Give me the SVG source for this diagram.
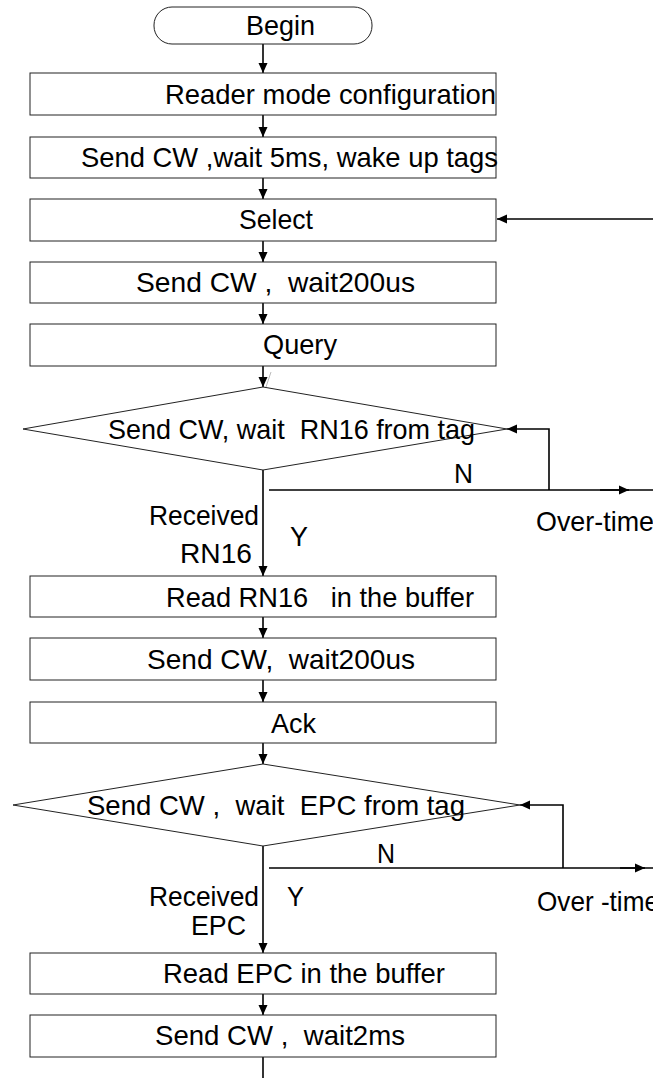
<svg xmlns="http://www.w3.org/2000/svg" width="653" height="1078" viewBox="0 0 653 1078">
  <style>
    .box { fill: #fff; stroke: #222; stroke-width: 1; }
    .lbl { font-family: "Liberation Sans", Arial, sans-serif; font-size: 28px; fill: #000; white-space: pre; }
    .wire { fill: none; stroke: #000; stroke-width: 1.6; }
  </style>
  <defs>
    <marker id="arrow" markerUnits="userSpaceOnUse" markerWidth="11" markerHeight="10" refX="10" refY="5" orient="auto">
      <path d="M0,0.5 L10,5 L0,9.5 z" fill="#000"/>
    </marker>
  </defs>
  <rect width="653" height="1078" fill="#fff"/>

  <!-- connectors -->
  <g id="connectors">
    <line class="wire" x1="263" y1="44" x2="263" y2="73" marker-end="url(#arrow)"/>
    <line class="wire" x1="263" y1="115" x2="263" y2="137" marker-end="url(#arrow)"/>
    <line class="wire" x1="263" y1="178" x2="263" y2="199" marker-end="url(#arrow)"/>
    <line class="wire" x1="653" y1="219" x2="497" y2="219" marker-end="url(#arrow)"/>
    <line class="wire" x1="263" y1="241" x2="263" y2="262" marker-end="url(#arrow)"/>
    <line class="wire" x1="263" y1="303" x2="263" y2="324" marker-end="url(#arrow)"/>
    <line class="wire" x1="263" y1="366" x2="263" y2="387" marker-end="url(#arrow)"/>
    <line x1="266" y1="387" x2="271" y2="372" stroke="#bbb" stroke-width="1"/>

    <!-- RN16 decision -->
    <line class="wire" x1="263" y1="470" x2="263" y2="576" marker-end="url(#arrow)"/>
    <line class="wire" x1="269" y1="490" x2="653" y2="490"/>
    <line class="wire" x1="600" y1="490" x2="629" y2="490" marker-end="url(#arrow)"/>
    <polyline class="wire" points="549,490 549,429 507,429" marker-end="url(#arrow)"/>

    <line class="wire" x1="263" y1="617" x2="263" y2="638" marker-end="url(#arrow)"/>
    <line class="wire" x1="263" y1="680" x2="263" y2="702" marker-end="url(#arrow)"/>
    <line class="wire" x1="263" y1="743" x2="263" y2="764" marker-end="url(#arrow)"/>

    <!-- EPC decision -->
    <line class="wire" x1="263" y1="846" x2="263" y2="953" marker-end="url(#arrow)"/>
    <line class="wire" x1="269" y1="868" x2="653" y2="868"/>
    <line class="wire" x1="620" y1="868" x2="645" y2="868" marker-end="url(#arrow)"/>
    <polyline class="wire" points="563,868 563,805 520,805" marker-end="url(#arrow)"/>

    <line class="wire" x1="263" y1="994" x2="263" y2="1015" marker-end="url(#arrow)"/>
    <line class="wire" x1="263" y1="1057" x2="263" y2="1078"/>
  </g>

  <!-- nodes -->
  <g id="begin">
    <rect class="box" x="154" y="7" width="218" height="37" rx="18" ry="18"/>
    <text class="lbl" x="246" y="35" textLength="69" lengthAdjust="spacingAndGlyphs">Begin</text>
  </g>
  <g id="reader-mode">
    <rect class="box" x="30" y="73" width="466" height="42"/>
    <text class="lbl" x="165" y="104" textLength="331" lengthAdjust="spacingAndGlyphs">Reader mode configuration</text>
  </g>
  <g id="wake-up">
    <rect class="box" x="30" y="137" width="466" height="41"/>
    <text class="lbl" x="81" y="167" textLength="417" lengthAdjust="spacingAndGlyphs">Send CW ,wait 5ms, wake up tags</text>
  </g>
  <g id="select">
    <rect class="box" x="30" y="199" width="466" height="42"/>
    <text class="lbl" x="239" y="229" textLength="74" lengthAdjust="spacingAndGlyphs">Select</text>
  </g>
  <g id="wait-200us-a">
    <rect class="box" x="30" y="262" width="466" height="41"/>
    <text class="lbl" x="136" y="292" textLength="279" lengthAdjust="spacingAndGlyphs">Send CW ,  wait200us</text>
  </g>
  <g id="query">
    <rect class="box" x="30" y="324" width="466" height="42"/>
    <text class="lbl" x="263" y="354" textLength="74" lengthAdjust="spacingAndGlyphs">Query</text>
  </g>
  <g id="wait-rn16">
    <polygon class="box" points="263,387 507,429 263,470 23,429"/>
    <text class="lbl" x="108" y="439" textLength="367" lengthAdjust="spacingAndGlyphs">Send CW, wait  RN16 from tag</text>
  </g>
  <g id="rn16-labels">
    <text class="lbl" x="454" y="483" textLength="19" lengthAdjust="spacingAndGlyphs">N</text>
    <text class="lbl" x="536" y="531" textLength="118" lengthAdjust="spacingAndGlyphs">Over-time</text>
    <text class="lbl" x="149" y="525" textLength="110" lengthAdjust="spacingAndGlyphs">Received</text>
    <text class="lbl" x="180" y="563" textLength="72" lengthAdjust="spacingAndGlyphs">RN16</text>
    <text class="lbl" x="290" y="546" textLength="18" lengthAdjust="spacingAndGlyphs">Y</text>
  </g>
  <g id="read-rn16">
    <rect class="box" x="30" y="576" width="466" height="41"/>
    <text class="lbl" x="166" y="607" textLength="308" lengthAdjust="spacingAndGlyphs">Read RN16   in the buffer</text>
  </g>
  <g id="wait-200us-b">
    <rect class="box" x="30" y="638" width="466" height="42"/>
    <text class="lbl" x="147" y="669" textLength="268" lengthAdjust="spacingAndGlyphs">Send CW,  wait200us</text>
  </g>
  <g id="ack">
    <rect class="box" x="30" y="702" width="466" height="41"/>
    <text class="lbl" x="271" y="733" textLength="45" lengthAdjust="spacingAndGlyphs">Ack</text>
  </g>
  <g id="wait-epc">
    <polygon class="box" points="263,764 520,805 263,846 13,805"/>
    <text class="lbl" x="87" y="815" textLength="378" lengthAdjust="spacingAndGlyphs">Send CW ,  wait  EPC from tag</text>
  </g>
  <g id="epc-labels">
    <text class="lbl" x="377" y="863" textLength="18" lengthAdjust="spacingAndGlyphs">N</text>
    <text class="lbl" x="537" y="911" textLength="122" lengthAdjust="spacingAndGlyphs">Over -time</text>
    <text class="lbl" x="149" y="906" textLength="110" lengthAdjust="spacingAndGlyphs">Received</text>
    <text class="lbl" x="191" y="935" textLength="55" lengthAdjust="spacingAndGlyphs">EPC</text>
    <text class="lbl" x="287" y="906" textLength="17" lengthAdjust="spacingAndGlyphs">Y</text>
  </g>
  <g id="read-epc">
    <rect class="box" x="30" y="953" width="466" height="41"/>
    <text class="lbl" x="163" y="983" textLength="282" lengthAdjust="spacingAndGlyphs">Read EPC in the buffer</text>
  </g>
  <g id="wait-2ms">
    <rect class="box" x="30" y="1015" width="466" height="42"/>
    <text class="lbl" x="155" y="1045" textLength="250" lengthAdjust="spacingAndGlyphs">Send CW ,  wait2ms</text>
  </g>
</svg>
